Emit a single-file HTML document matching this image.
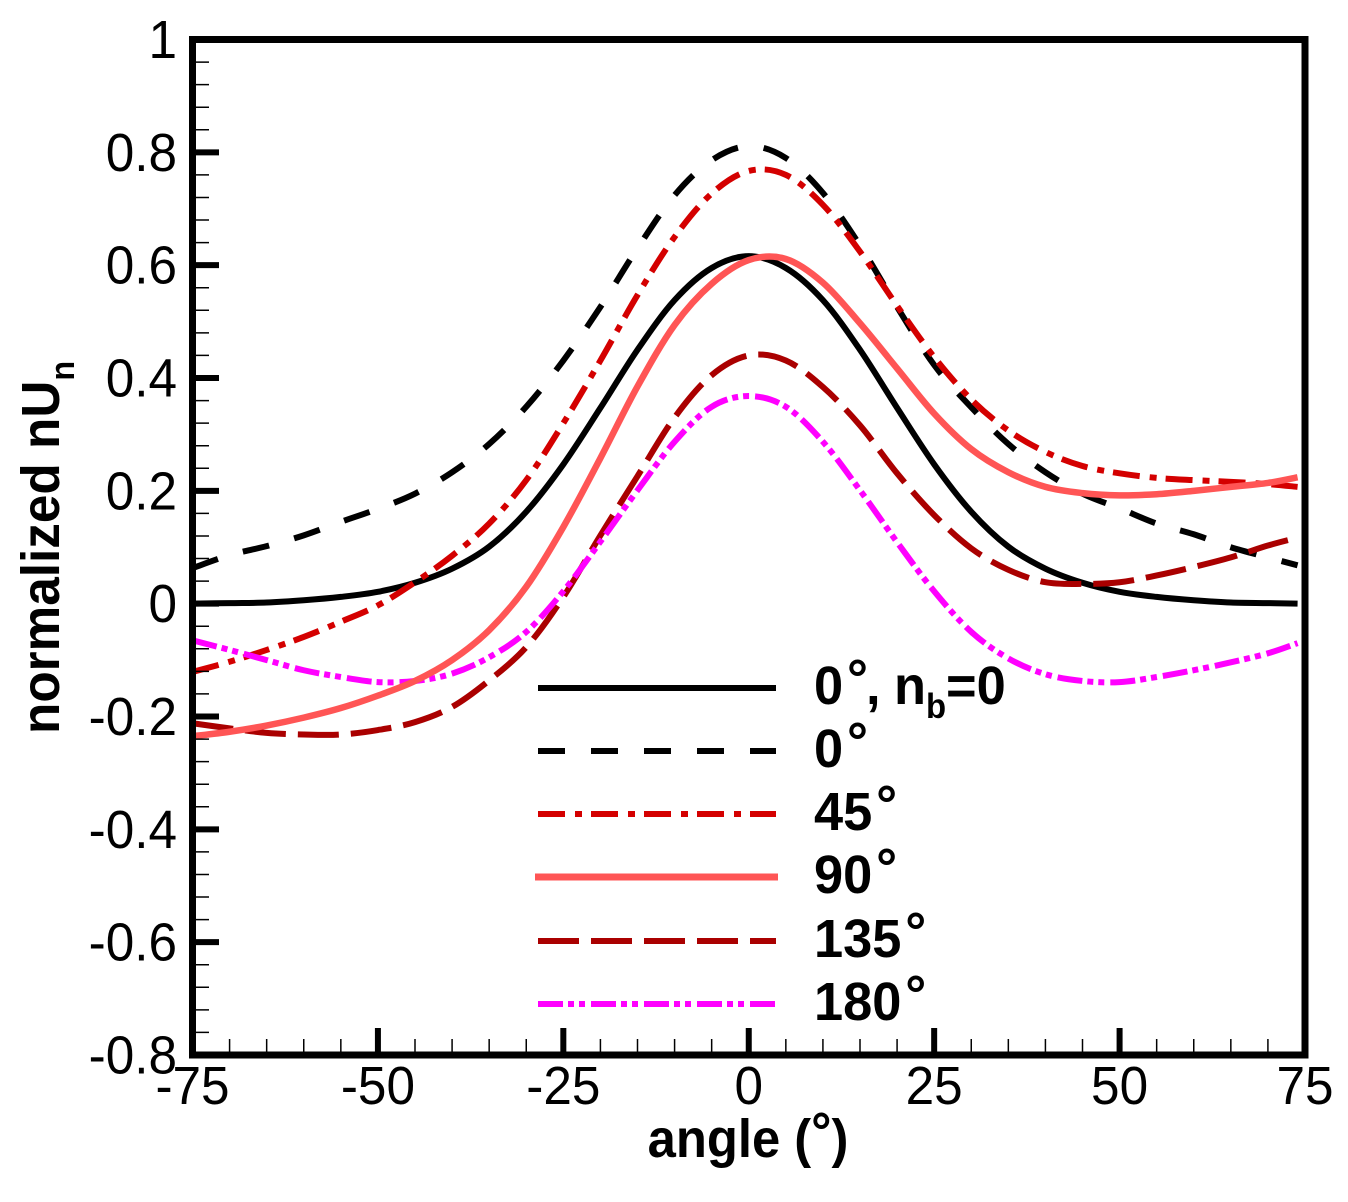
<!DOCTYPE html>
<html lang="en">
<head>
<meta charset="utf-8">
<title>Normalized nUn vs angle</title>
<style>
html,body{margin:0;padding:0;background:#fff;}
svg{display:block;}
text{font-family:"Liberation Sans",sans-serif;fill:#000;}
.b{font-weight:bold;}
</style>
</head>
<body>
<svg id="chart" width="1348" height="1202" viewBox="0 0 1348 1202" xmlns="http://www.w3.org/2000/svg">
  <g id="series-layer"></g>
  <g id="axis-layer"></g>

  <text class="b" font-size="54" text-anchor="middle" transform="translate(748,1157) scale(0.94,1)">angle (<tspan dy="-7">°</tspan><tspan dy="7">)</tspan></text>
  <text class="b" font-size="54" transform="translate(59,734) rotate(-90) scale(0.95,1)">normalized nU<tspan font-size="34" dy="15">n</tspan></text>

  <g>
    <line x1="538" x2="776" y1="688" y2="688" stroke="#000" stroke-width="6"/>
    <line x1="538" x2="776" y1="751" y2="751" stroke="#000" stroke-width="6" stroke-dasharray="27 26"/>
    <line x1="538" x2="776" y1="814" y2="814" stroke="#d40000" stroke-width="6" stroke-dasharray="27 10 7 9"/>
    <line x1="535" x2="778" y1="877" y2="877" stroke="#ff5555" stroke-width="7"/>
    <line x1="538" x2="776" y1="941" y2="941" stroke="#aa0000" stroke-width="6" stroke-dasharray="41 12"/>
    <line x1="538" x2="776" y1="1004" y2="1004" stroke="#ff00ff" stroke-width="6" stroke-dasharray="25 5 6 5 6 6"/>

    <g>
      <text class="b" font-size="54" transform="translate(814,704) scale(0.97,1)">0<tspan dy="-7" dx="4">°</tspan></text>
      <text class="b" font-size="54" transform="translate(866,704) scale(0.97,1)">,</text>
      <text class="b" font-size="54" transform="translate(894,704) scale(0.97,1)">n</text>
      <text font-size="35" class="b" transform="translate(926,718) scale(0.94,1)">b</text>
      <text class="b" font-size="54" transform="translate(946,704) scale(0.97,1)">=0</text>
    </g>
    <text class="b" font-size="54" transform="translate(814,767) scale(0.97,1)">0<tspan dy="-7" dx="4">°</tspan></text>
    <text class="b" font-size="54" transform="translate(814,830) scale(0.97,1)">45<tspan dy="-7" dx="4">°</tspan></text>
    <text class="b" font-size="54" transform="translate(814,893) scale(0.97,1)">90<tspan dy="-7" dx="4">°</tspan></text>
    <text class="b" font-size="54" transform="translate(814,957) scale(0.97,1)">135<tspan dy="-7" dx="4">°</tspan></text>
    <text class="b" font-size="54" transform="translate(814,1020) scale(0.97,1)">180<tspan dy="-7" dx="4">°</tspan></text>
  </g>
</svg>
<script>
const angles = [-75,-70,-65,-60,-55,-50,-45,-40,-35,-30,-25,-20,-15,-10,-5,0,5,10,15,20,25,30,35,40,45,50,55,60,65,70,74];
const seriesNb0 = [0,0.001,0.002,0.006,0.012,0.021,0.037,0.062,0.101,0.163,0.247,0.347,0.45,0.538,0.595,0.616,0.595,0.538,0.45,0.347,0.247,0.163,0.101,0.062,0.037,0.021,0.012,0.006,0.002,0.001,0];
const series0 = [0.063,0.086,0.102,0.121,0.145,0.168,0.195,0.233,0.283,0.349,0.431,0.526,0.63,0.724,0.786,0.811,0.79,0.728,0.635,0.526,0.423,0.348,0.283,0.233,0.195,0.169,0.142,0.123,0.1,0.082,0.068];
const series45 = [-0.121,-0.103,-0.082,-0.059,-0.032,-0.003,0.038,0.085,0.142,0.219,0.32,0.431,0.547,0.65,0.727,0.767,0.76,0.707,0.624,0.528,0.437,0.362,0.307,0.269,0.244,0.231,0.223,0.219,0.216,0.212,0.207];
const series90 = [-0.235,-0.227,-0.216,-0.202,-0.185,-0.163,-0.137,-0.1,-0.047,0.03,0.136,0.258,0.385,0.494,0.567,0.609,0.611,0.569,0.497,0.417,0.337,0.274,0.233,0.207,0.196,0.192,0.194,0.2,0.207,0.214,0.224];
const series135 = [-0.212,-0.221,-0.229,-0.232,-0.232,-0.224,-0.21,-0.183,-0.136,-0.077,0.012,0.121,0.226,0.33,0.405,0.44,0.431,0.384,0.316,0.231,0.157,0.098,0.06,0.038,0.035,0.038,0.05,0.065,0.082,0.103,0.117];
const series180 = [-0.065,-0.082,-0.1,-0.118,-0.13,-0.139,-0.137,-0.124,-0.095,-0.05,0.022,0.11,0.201,0.287,0.349,0.368,0.349,0.287,0.201,0.109,0.022,-0.05,-0.097,-0.125,-0.137,-0.139,-0.13,-0.118,-0.104,-0.088,-0.07];
const xTickValues = [-75,-50,-25,0,25,50,75];
const xTickLabels = ['-75','-50','-25','0','25','50','75'];
const yTickValues = [-0.8,-0.6,-0.4,-0.2,0,0.2,0.4,0.6,0.8,1];
const yTickLabels = ['-0.8','-0.6','-0.4','-0.2','0','0.2','0.4','0.6','0.8','1'];

const NS = 'http://www.w3.org/2000/svg';
const plotLeft = 192.5, plotRight = 1305, plotTop = 39.5, plotBottom = 1055;
const xScale = v => plotLeft + (v + 75) / 150 * (plotRight - plotLeft);
const yScale = v => plotBottom - (v + 0.8) / 1.8 * (plotBottom - plotTop);

const seriesLayer = document.getElementById('series-layer');
const axisLayer = document.getElementById('axis-layer');

function smoothPath(xs, ys) {
  const p = xs.map((x, i) => [xScale(x), yScale(ys[i])]);
  let d = 'M' + p[0][0].toFixed(2) + ' ' + p[0][1].toFixed(2);
  for (let i = 0; i < p.length - 1; i++) {
    const a = p[Math.max(i - 1, 0)], b = p[i], c = p[i + 1], e = p[Math.min(i + 2, p.length - 1)];
    const c1x = b[0] + (c[0] - a[0]) / 6, c1y = b[1] + (c[1] - a[1]) / 6;
    const c2x = c[0] - (e[0] - b[0]) / 6, c2y = c[1] - (e[1] - b[1]) / 6;
    d += 'C' + c1x.toFixed(2) + ' ' + c1y.toFixed(2) + ' ' + c2x.toFixed(2) + ' ' + c2y.toFixed(2) + ' ' + c[0].toFixed(2) + ' ' + c[1].toFixed(2);
  }
  return d;
}

function drawSeries(name, values, color, width, dash) {
  const path = document.createElementNS(NS, 'path');
  path.setAttribute('d', smoothPath(angles, values));
  path.setAttribute('fill', 'none');
  path.setAttribute('stroke', color);
  path.setAttribute('stroke-width', width);
  if (dash) path.setAttribute('stroke-dasharray', dash);
  
  
  seriesLayer.appendChild(path);
}

drawSeries('series-0-nb0', seriesNb0, '#000000', 6, '');
drawSeries('series-0', series0, '#000000', 6, '27 26');
drawSeries('series-45', series45, '#d40000', 6, '27 10 7 9');
drawSeries('series-135', series135, '#aa0000', 6, '41 12');
drawSeries('series-180', series180, '#ff00ff', 6, '25 5 6 5 6 6');
drawSeries('series-90', series90, '#ff5555', 6.5, '');

function addLine(name, x1, y1, x2, y2, w) {
  const l = document.createElementNS(NS, 'line');
  l.setAttribute('x1', x1);
  l.setAttribute('y1', y1);
  l.setAttribute('x2', x2);
  l.setAttribute('y2', y2);
  l.setAttribute('stroke', '#000');
  l.setAttribute('stroke-width', w);
  
  
  axisLayer.appendChild(l);
}

function addLabel(name, str, x, y, anchor) {
  const t = document.createElementNS(NS, 'text');
  t.textContent = str;
  t.setAttribute('font-size', '54');
  t.setAttribute('text-anchor', anchor);
  t.setAttribute('transform', 'translate(' + x + ',' + y + ') scale(0.95,1)');
  
  
  axisLayer.appendChild(t);
}

// minor ticks
for (let i = 0; i <= 30; i++) {
  if (i % 5 === 0) continue;
  const xm = xScale(-75 + i * 5);
  addLine('x-minor-tick', xm, plotBottom, xm, 1039, 1.5);
}
for (let i = 0; i <= 45; i++) {
  if (i % 5 === 0) continue;
  const ym = yScale(-0.8 + i * 0.04);
  addLine('y-minor-tick', plotLeft, ym, 209, ym, 1.5);
}
// major ticks and labels
xTickValues.forEach((v, i) => {
  const x = xScale(v);
  if (i > 0 && i < xTickValues.length - 1) addLine('x-major-tick', x, plotBottom, x, 1028, 6);
  addLabel('x-tick-label', xTickLabels[i], x, 1104, 'middle');
});
yTickValues.forEach((v, i) => {
  const y = yScale(v);
  if (i > 0 && i < yTickValues.length - 1) addLine('y-major-tick', plotLeft, y, 219, y, 6);
  addLabel('y-tick-label', yTickLabels[i], 177, y + 18.5, 'end');
});
// frame
const frame = document.createElementNS(NS, 'rect');
frame.setAttribute('x', plotLeft);
frame.setAttribute('y', plotTop);
frame.setAttribute('width', plotRight - plotLeft);
frame.setAttribute('height', plotBottom - plotTop);
frame.setAttribute('fill', 'none');
frame.setAttribute('stroke', '#000');
frame.setAttribute('stroke-width', '7');


axisLayer.appendChild(frame);
</script>
</body>
</html>
